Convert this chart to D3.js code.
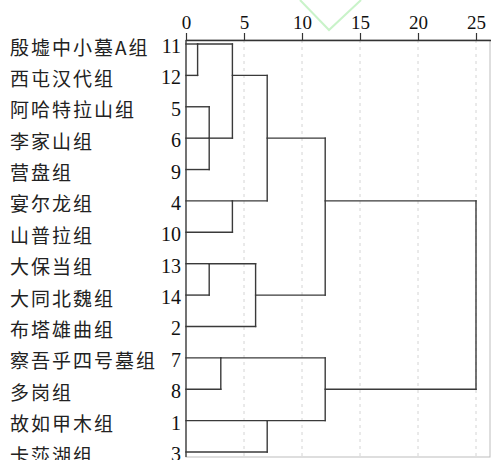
<!DOCTYPE html>
<html>

<head>
    <meta charset="UTF-8">
    <title>Dendrogram</title>
    <script src="https://d3js.org/d3.v7.min.js"></script>
    <style>
        body { margin: 0; background: #fff; }
    </style>
</head>

<body>
    <script>
        // leaves, top to bottom
        const leafIds = [11, 12, 5, 6, 9, 4, 10, 13, 14, 2, 7, 8, 1, 3];
        const leafNames = ["殷墟中小墓A组", "西屯汉代组", "阿哈特拉山组", "李家山组", "营盘组", "宴尔龙组",
            "山普拉组", "大保当组", "大同北魏组", "布塔雄曲组", "察吾乎四号墓组", "多岗组", "故如甲木组", "卡莎湖组"];
        const axisTicks = [0, 5, 10, 15, 20, 25];

        // merges (rescaled distance, 0-25)
        const mergeIds = ["a", "b", "c", "d", "e", "f", "g", "h", "i", "j", "k", "root"];
        const mergeKids = [[11, 12], [5, 6, 9], ["a", "b"], [4, 10], ["c", "d"], [13, 14], ["f", 2],
            ["e", "g"], [7, 8], [1, 3], ["i", "j"], ["h", "k"]];
        const mergeHeights = [1, 2, 4, 4, 7, 2, 6, 12, 3, 7, 12, 25];

        const width = 491, height = 460;
        const x = d3.scaleLinear().domain([0, 25]).range([186, 476]);
        const y = d3.scaleLinear().domain([0, leafIds.length - 1]).range([44, 452]);

        // node row / height lookup
        const nodes = new Map();
        leafIds.forEach((id, i) => nodes.set(id, { row: i, h: 0 }));
        mergeIds.forEach((id, i) => {
            const rows = mergeKids[i].map(k => nodes.get(k).row);
            nodes.set(id, { row: Math.floor((d3.min(rows) + d3.max(rows)) / 2), h: mergeHeights[i] });
        });

        const svg = d3.select("body").append("svg")
            .attr("width", width).attr("height", height)
            .style("display", "block");

        // faint watermark
        svg.append("path")
            .attr("d", "M300,0L329,30L361,0")
            .attr("fill", "none").attr("stroke", "#c9f3c9").attr("stroke-width", 2);

        // frame
        svg.append("rect")
            .attr("x", x(0)).attr("y", 40)
            .attr("width", 490 - x(0)).attr("height", 457 - 40)
            .attr("fill", "none").attr("stroke", "#bdbdbd").attr("stroke-width", 1);

        // dotted grid
        svg.append("g").selectAll("line")
            .data(axisTicks.slice(1)).enter().append("line")
            .attr("x1", d => x(d)).attr("x2", d => x(d))
            .attr("y1", 40).attr("y2", 457)
            .attr("stroke", "#d4d4d4").attr("stroke-dasharray", "3,4");

        // top axis
        const axis = svg.append("g")
            .attr("transform", "translate(0,40)")
            .call(d3.axisTop(x).tickValues(axisTicks).tickSize(7).tickPadding(4));
        axis.select(".domain").attr("d", `M${x(0)},0.5H491`).attr("stroke", "#333").attr("stroke-width", 1.3);
        axis.selectAll(".tick line").attr("stroke", "#333").attr("stroke-width", 1.2);
        axis.selectAll(".tick text")
            .attr("font-family", "'Liberation Serif', serif").attr("font-size", 19).attr("fill", "#111");

        // dendrogram segments
        const segs = [];
        mergeIds.forEach((id, i) => {
            const h = mergeHeights[i];
            const kids = mergeKids[i].map(k => nodes.get(k));
            kids.forEach(k => segs.push([k.h, k.row, h, k.row]));
            segs.push([h, d3.min(kids, k => k.row), h, d3.max(kids, k => k.row)]);
        });

        svg.append("g").selectAll("line")
            .data(segs).enter().append("line")
            .attr("x1", d => x(d[0])).attr("y1", d => y(d[1]))
            .attr("x2", d => x(d[2])).attr("y2", d => y(d[3]))
            .attr("stroke", "#3a3a3a").attr("stroke-width", 1.4)
            .attr("stroke-linecap", "square");

        // left edge
        svg.append("line")
            .attr("x1", x(0)).attr("x2", x(0)).attr("y1", 40).attr("y2", 457)
            .attr("stroke", "#3a3a3a").attr("stroke-width", 1.3);

        // labels
        const lab = svg.append("g");
        lab.selectAll(".name")
            .data(leafNames).enter().append("text")
            .attr("class", "name")
            .attr("x", 10).attr("y", (d, i) => y(i) + 2)
            .attr("dominant-baseline", "central")
            .attr("font-family", "'Noto Sans CJK SC', sans-serif")
            .attr("font-size", 19).attr("letter-spacing", 2)
            .attr("fill", "#222")
            .text(d => d);

        lab.selectAll(".num")
            .data(leafIds).enter().append("text")
            .attr("class", "num")
            .attr("x", 181).attr("y", (d, i) => y(i) + 2)
            .attr("text-anchor", "end")
            .attr("dominant-baseline", "central")
            .attr("font-family", "'Liberation Serif', serif")
            .attr("font-size", 20)
            .attr("fill", "#111")
            .text(d => d);
    </script>
</body>

</html>
